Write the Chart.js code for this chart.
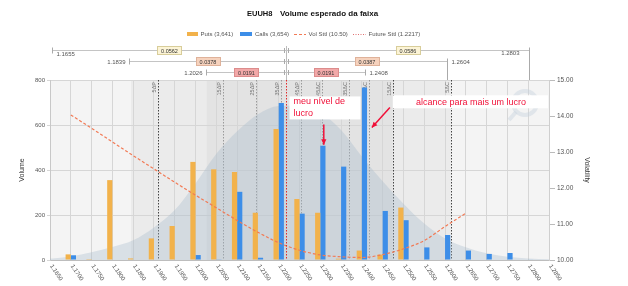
<!DOCTYPE html>
<html>
<head>
<meta charset="utf-8">
<script src="https://cdn.jsdelivr.net/npm/chart.js@4.4.1/dist/chart.umd.min.js"></script>
<style>
  html, body { margin: 0; padding: 0; background: #fff; }
</style>
</head>
<body>
<canvas id="c" width="628" height="286"></canvas>
<script>
// strikes (x categories)
const strikes = ['1.1650', '1.1700', '1.1750', '1.1800', '1.1850', '1.1900', '1.1950', '1.2000', '1.2050',
  '1.2100', '1.2150', '1.2200', '1.2250', '1.2300', '1.2350', '1.2400', '1.2450', '1.2500', '1.2550',
  '1.2600', '1.2650', '1.2700', '1.2750', '1.2800', '1.2850'];
// volume por strike
const puts  = [0, 25, 4, 355, 7, 96, 151, 436, 403, 391, 210, 582, 271, 210, 6, 42, 24, 233, 2, 2, 2, 0, 0, 0, 0];
const calls = [0, 21, 0, 0, 0, 0, 0, 22, 3, 303, 10, 698, 206, 508, 415, 767, 218, 177, 56, 111, 42, 27, 31, 2, 0];
// curva de volume esperado (área)
const expected = [6, 16, 34, 58, 88, 145, 222, 340, 472, 572, 648, 684, 686, 657, 578, 460, 350, 250, 162, 96, 57, 30, 15, 7, 3];
// vol settle (eixo direito)
const volSttl = [null, 14.03, 13.66, 13.28, 12.90, 12.53, 12.16, 11.80, 11.45, 11.10, 10.77, 10.48, 10.27, 10.14,
  10.09, 10.07, 10.15, 10.31, 10.54, 10.93, 11.30, null, null, null, null];
const volumeTicks = [0, 200, 400, 600, 800];
const volTicks = [10, 11, 12, 13, 14, 15];

const putsTotal = '3,641', callsTotal = '3,654', volAtm = '10.50';
const futureSttl = 1.2217;
// faixas esperadas (3 linhas de cima)
const rangeLow  = [1.1655, 1.1839, 1.2026];
const rangeHigh = [1.2803, 1.2604, 1.2408];
const rangeColors = ['#fcf4d6', '#f6d2bd', '#f2a8a8'];
const rangeBorders = ['#d8cd9a', '#dfb29a', '#dc8c8c'];
// faixas de fundo
const bandOuter = [1.1845, 1.2614];
const bandInner = [1.2027, 1.2474];
// linhas de delta
const deltaPrices = [1.1910, 1.2065, 1.2145, 1.2205, 1.2254, 1.2303, 1.2369, 1.2417, 1.2474, 1.2614];
const deltaNames  = ['5ΔP', '15ΔP', '25ΔP', '35ΔP', '45ΔP', '45ΔC', '35ΔC', '25ΔC', '15ΔC', '5ΔC'];
const deltaDark   = [true, false, false, false, false, false, false, false, true, true];

const FAM = '"Liberation Sans", Arial, sans-serif';
const X0 = parseFloat(strikes[0]), XSTEP = parseFloat(strikes[1]) - X0;
const xAt = (chart, p) => chart.scales.x.getPixelForValue((p - X0) / XSTEP);

function arrow(ctx, x1, y1, x2, y2) {
  ctx.beginPath(); ctx.moveTo(x1, y1); ctx.lineTo(x2, y2); ctx.stroke();
  const ang = Math.atan2(y2 - y1, x2 - x1), h = 6;
  ctx.beginPath(); ctx.moveTo(x2, y2);
  ctx.lineTo(x2 - h * Math.cos(ang - 0.45), y2 - h * Math.sin(ang - 0.45));
  ctx.lineTo(x2 - h * Math.cos(ang + 0.45), y2 - h * Math.sin(ang + 0.45));
  ctx.closePath(); ctx.fill();
}

const decor = {
  id: 'decor',
  beforeDraw(chart) {
    const { ctx, chartArea: a } = chart;
    ctx.save();
    ctx.fillStyle = '#f4f4f4';
    ctx.fillRect(a.left, a.top, a.right - a.left, a.bottom - a.top);
    ctx.fillStyle = '#ebebeb';
    ctx.fillRect(xAt(chart, bandOuter[0]), a.top, xAt(chart, bandOuter[1]) - xAt(chart, bandOuter[0]), a.bottom - a.top);
    ctx.fillStyle = '#e3e3e3';
    ctx.fillRect(xAt(chart, bandInner[0]), a.top, xAt(chart, bandInner[1]) - xAt(chart, bandInner[0]), a.bottom - a.top);
    ctx.restore();
  },
  beforeDatasetsDraw(chart) {
    const { ctx, chartArea: a } = chart;
    ctx.save();
    ctx.lineWidth = 1;
    ctx.font = '5.5px ' + FAM;
    deltaPrices.forEach((p, i) => {
      const x = Math.round(xAt(chart, p)) + 0.5;
      ctx.strokeStyle = deltaDark[i] ? '#444' : '#9a9a9a';
      ctx.setLineDash([1.5, 1.5]);
      ctx.beginPath(); ctx.moveTo(x, a.top); ctx.lineTo(x, a.bottom); ctx.stroke();
      ctx.save();
      ctx.translate(x - 1.5, a.top + 2);
      ctx.rotate(-Math.PI / 2);
      ctx.fillStyle = '#777'; ctx.textAlign = 'right'; ctx.textBaseline = 'bottom';
      ctx.fillText(deltaNames[i], 0, 0);
      ctx.restore();
    });
    ctx.restore();
  },
  afterDatasetsDraw(chart) {
    const { ctx, chartArea: a } = chart;
    ctx.save();
    const x = Math.round(xAt(chart, futureSttl)) + 0.5;
    ctx.strokeStyle = '#e02a2a'; ctx.lineWidth = 1; ctx.setLineDash([1.5, 1.5]);
    ctx.beginPath(); ctx.moveTo(x, a.top); ctx.lineTo(x, a.bottom); ctx.stroke();
    ctx.restore();
  },
  afterDraw(chart) {
    const { ctx, chartArea: a, scales: { x: xs, y: ys } } = chart;
    ctx.save();
    // título
    ctx.fillStyle = '#111'; ctx.textBaseline = 'middle'; ctx.textAlign = 'left';
    ctx.font = 'bold 7.5px ' + FAM; ctx.fillText('EUUH8', 247, 14);
    ctx.font = 'bold 8px ' + FAM; ctx.fillText('Volume esperado da faixa', 280, 14);

    // legenda
    ctx.font = '6px ' + FAM; ctx.fillStyle = '#555';
    ctx.fillStyle = '#f2b24b'; ctx.fillRect(187, 32, 11, 4);
    ctx.fillStyle = '#555'; ctx.fillText('Puts (' + putsTotal + ')', 200.5, 34.5);
    ctx.fillStyle = '#3d8ee8'; ctx.fillRect(240, 32, 12, 4);
    ctx.fillStyle = '#555'; ctx.fillText('Calls (' + callsTotal + ')', 255, 34.5);
    ctx.strokeStyle = '#f27a55'; ctx.lineWidth = 1.2; ctx.setLineDash([3, 2]);
    ctx.beginPath(); ctx.moveTo(294, 34.5); ctx.lineTo(306, 34.5); ctx.stroke();
    ctx.fillText('Vol Sttl (' + volAtm + ')', 308.5, 34.5);
    ctx.strokeStyle = '#e07070'; ctx.lineWidth = 1; ctx.setLineDash([1, 1.5]);
    ctx.beginPath(); ctx.moveTo(353, 34.5); ctx.lineTo(366, 34.5); ctx.stroke();
    ctx.fillText('Future Sttl (' + futureSttl.toFixed(4) + ')', 368.5, 34.5);
    ctx.setLineDash([]);

    // faixas esperadas
    const rowY = [50.5, 61.5, 72.5];
    const xm = Math.round(xAt(chart, futureSttl)) + 0.5;
    ctx.strokeStyle = '#bdbdbd'; ctx.lineWidth = 1;
    ctx.beginPath(); ctx.moveTo(xm, 46); ctx.lineTo(xm, a.top); ctx.stroke();
    rangeLow.forEach((lo, r) => {
      const y = rowY[r];
      const xl = Math.round(xAt(chart, lo)) + 0.5, xh = Math.round(xAt(chart, rangeHigh[r])) + 0.5;
      ctx.strokeStyle = '#c4c4c4';
      ctx.beginPath(); ctx.moveTo(xl, y); ctx.lineTo(xh, y); ctx.stroke();
      ctx.strokeStyle = '#aaa';
      ctx.beginPath();
      ctx.moveTo(xl, y - 3); ctx.lineTo(xl, y + 3);
      ctx.moveTo(xm - 2, y - 2.5); ctx.lineTo(xm - 2, y + 2.5);
      ctx.moveTo(xm + 2, y - 2.5); ctx.lineTo(xm + 2, y + 2.5);
      ctx.moveTo(xh, y - 3); ctx.lineTo(xh, r < 2 ? a.top : y + 3);
      ctx.stroke();
      // caixas com a distância
      const dl = (futureSttl - lo).toFixed(4), dh = (rangeHigh[r] - futureSttl).toFixed(4);
      [[(xl + xm) / 2, dl], [(xm + xh) / 2, dh]].forEach(([cx, t]) => {
        ctx.fillStyle = rangeColors[r]; ctx.strokeStyle = rangeBorders[r];
        ctx.fillRect(Math.round(cx - 12.5), y - 4.5, 25, 9);
        ctx.strokeRect(Math.round(cx - 12.5) + 0.5, y - 4, 24, 8);
        ctx.fillStyle = '#333'; ctx.textAlign = 'center'; ctx.font = '5.5px ' + FAM;
        ctx.fillText(t, cx, y + 0.5);
      });
      ctx.fillStyle = '#555'; ctx.font = '6px ' + FAM;
      if (r === 0) {
        ctx.textAlign = 'left'; ctx.fillText(lo.toFixed(4), xl + 4, y + 3.5);
        ctx.textAlign = 'right'; ctx.fillText(rangeHigh[r].toFixed(4), xh - 10, y + 3);
      } else {
        ctx.textAlign = 'right'; ctx.fillText(lo.toFixed(4), xl - 4, y + 0.5);
        ctx.textAlign = 'left'; ctx.fillText(rangeHigh[r].toFixed(4), xh + 4, y + 0.5);
      }
    });

    // rótulos do eixo x (inclinados)
    ctx.font = '6px ' + FAM; ctx.fillStyle = '#555'; ctx.textAlign = 'left'; ctx.textBaseline = 'middle';
    strikes.forEach((s, i) => {
      const px = xs.getPixelForTick(i);
      ctx.save();
      ctx.translate(px + 1, a.bottom + 5);
      ctx.rotate(56 * Math.PI / 180);
      ctx.fillText(s, 0, 0);
      ctx.restore();
    });

    // marca d'água
    ctx.strokeStyle = 'rgba(200,210,222,0.45)'; ctx.lineWidth = 4;
    ctx.beginPath(); ctx.arc(a.right - 24, a.top + 23, 12, 0, Math.PI * 2); ctx.stroke();
    ctx.beginPath(); ctx.moveTo(a.right - 33, a.top + 32); ctx.lineTo(a.right - 40, a.top + 40); ctx.stroke();

    // anotações
    const red = '#f01038';
    const b1x = xm + 3, b1y = ys.getPixelForValue(727);
    ctx.fillStyle = '#fff'; ctx.fillRect(b1x, b1y, 71, 23);
    ctx.fillStyle = red; ctx.font = '9px ' + FAM; ctx.textAlign = 'left';
    ctx.fillText('meu nível de', b1x + 4, b1y + 5.5);
    ctx.fillText('lucro', b1x + 4, b1y + 17.5);
    const b2x = xs.getPixelForValue(15) + 31, b2y = ys.getPixelForValue(732);
    ctx.fillStyle = '#fff'; ctx.fillRect(b2x, b2y, a.right - 1 - b2x, 13);
    ctx.fillStyle = red; ctx.textAlign = 'center';
    ctx.fillText('alcance para mais um lucro', (b2x + a.right) / 2, b2y + 7);

    ctx.strokeStyle = red; ctx.fillStyle = red; ctx.lineWidth = 1.5;
    const ax = xs.getPixelForValue(13) + 3.5;
    arrow(ctx, ax, b1y + 28, ax, ys.getPixelForValue(calls[13]) - 1);
    const bx = xs.getPixelForValue(15) + 10, by = ys.getPixelForValue(calls[15]) + 40;
    arrow(ctx, bx + 18, by - 20, bx, by);
    ctx.restore();
  }
};

new Chart(document.getElementById('c'), {
  type: 'bar',
  data: {
    labels: strikes,
    datasets: [
      { label: 'Puts', data: puts, backgroundColor: '#f2b24b', yAxisID: 'y', order: 2 },
      { label: 'Calls', data: calls, backgroundColor: '#3d8ee8', yAxisID: 'y', order: 2 },
      { type: 'line', label: 'Esperado', data: expected, yAxisID: 'y', fill: 'origin',
        backgroundColor: 'rgba(165,185,202,0.34)', borderWidth: 0, borderColor: 'rgba(0,0,0,0)',
        pointRadius: 0, cubicInterpolationMode: 'monotone', order: 3 },
      { type: 'line', label: 'Vol Sttl', data: volSttl, yAxisID: 'y1', fill: false,
        borderColor: '#f27a55', borderWidth: 1.2, borderDash: [3, 2], pointRadius: 0,
        cubicInterpolationMode: 'monotone', order: 1 },
    ],
  },
  options: {
    responsive: false, animation: false,
    layout: { padding: { top: 80 } },
    datasets: { bar: { categoryPercentage: 0.5, barPercentage: 1 } },
    plugins: { legend: { display: false }, tooltip: { enabled: false } },
    scales: {
      x: {
        offset: false,
        grid: { offset: false, color: '#d6d6d6', tickLength: 0 },
        border: { color: '#bdbdbd' },
        ticks: { display: false },
        afterFit: s => { s.height = 26; },
      },
      y: {
        position: 'left', min: 0, max: 800,
        afterBuildTicks: s => { s.ticks = volumeTicks.map(v => ({ value: v })); },
        ticks: { font: { size: 6, family: FAM }, color: '#555', padding: 2 },
        grid: { color: '#d6d6d6', tickLength: 3 },
        border: { color: '#c8c8c8' },
        title: { display: true, text: 'Volume', font: { size: 7, family: FAM }, color: '#333', padding: { top: 18, bottom: 0 } },
        afterFit: s => { s.width = 50; },
      },
      y1: {
        position: 'right', min: 10, max: 15,
        afterBuildTicks: s => { s.ticks = volTicks.map(v => ({ value: v })); },
        ticks: { font: { size: 6.5, family: FAM }, color: '#555', padding: 2, callback: v => Number(v).toFixed(2) },
        grid: { drawOnChartArea: false, tickLength: 6, color: '#bbb' },
        border: { color: '#cfcfcf' },
        title: { display: true, text: 'Volatility', font: { size: 7, family: FAM }, color: '#333', padding: { top: 37, bottom: 0 } },
        afterFit: s => { s.width = 79; },
      },
    },
  },
  plugins: [decor],
});
</script>
</body>
</html>
